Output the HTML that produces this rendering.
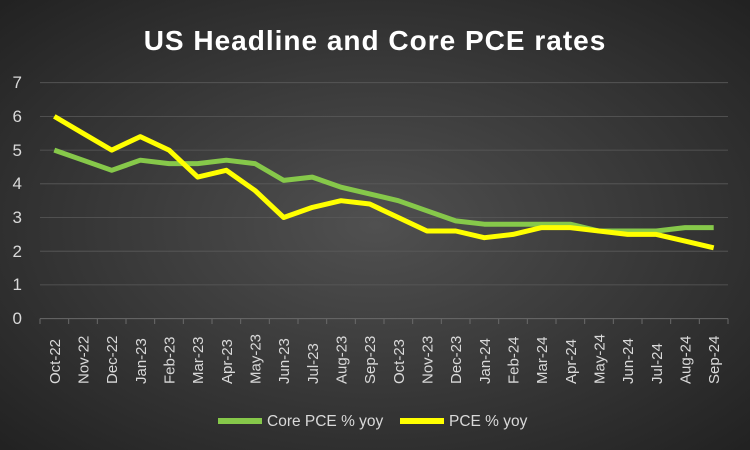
<!DOCTYPE html>
<html><head><meta charset="utf-8"><style>
body{margin:0;width:750px;height:450px;overflow:hidden}
svg{display:block;font-family:"Liberation Sans",Calibri,sans-serif}
</style></head><body>
<svg width="750" height="450" viewBox="0 0 750 450">
<defs><radialGradient id="bg" cx="50%" cy="50%" r="70%">
<stop offset="0" stop-color="#505050"/><stop offset="1" stop-color="#222"/></radialGradient></defs>
<rect width="750" height="450" fill="url(#bg)"/>
<text x="375" y="50" text-anchor="middle" font-size="28" font-weight="bold" fill="#fff" letter-spacing="1">US Headline and Core PCE rates</text>
<g stroke="#5a5a5a" stroke-width="0.8">
<line x1="40" y1="82.7" x2="728" y2="82.7"/><line x1="40" y1="116.4" x2="728" y2="116.4"/>
<line x1="40" y1="150.1" x2="728" y2="150.1"/><line x1="40" y1="183.8" x2="728" y2="183.8"/>
<line x1="40" y1="217.5" x2="728" y2="217.5"/><line x1="40" y1="251.2" x2="728" y2="251.2"/>
<line x1="40" y1="284.9" x2="728" y2="284.9"/>
</g>
<line x1="40" y1="318.6" x2="728" y2="318.6" stroke="#6a6a6a"/>
<g id="ticks" stroke="#6a6a6a"></g>
<g fill="#d9d9d9" font-size="17" text-anchor="end">
<text x="22" y="88">7</text><text x="22" y="122">6</text><text x="22" y="156">5</text><text x="22" y="189">4</text><text x="22" y="223">3</text><text x="22" y="257">2</text><text x="22" y="290">1</text><text x="22" y="324">0</text>
</g>
<g id="xl" fill="#d9d9d9" font-size="15"></g>
<polyline id="core" fill="none" stroke="#86c84a" stroke-width="5" stroke-linejoin="round"/>
<polyline id="pce" fill="none" stroke="#ffff00" stroke-width="5" stroke-linejoin="round"/>
<line x1="218" y1="421" x2="262" y2="421" stroke="#86c84a" stroke-width="6"/>
<text x="267" y="426" fill="#d9d9d9" font-size="15.5">Core PCE % yoy</text>
<line x1="400" y1="421" x2="444" y2="421" stroke="#ffff00" stroke-width="6"/>
<text x="449" y="426" fill="#d9d9d9" font-size="15.5">PCE % yoy</text>
</svg>
<script>
var L=["Oct-22","Nov-22","Dec-22","Jan-23","Feb-23","Mar-23","Apr-23","May-23","Jun-23","Jul-23","Aug-23","Sep-23","Oct-23","Nov-23","Dec-23","Jan-24","Feb-24","Mar-24","Apr-24","May-24","Jun-24","Jul-24","Aug-24","Sep-24"];
var C=[5.0,4.7,4.4,4.7,4.6,4.6,4.7,4.6,4.1,4.2,3.9,3.7,3.5,3.2,2.9,2.8,2.8,2.8,2.8,2.6,2.6,2.6,2.7,2.7];
var P=[6.0,5.5,5.0,5.4,5.0,4.2,4.4,3.8,3.0,3.3,3.5,3.4,3.0,2.6,2.6,2.4,2.5,2.7,2.7,2.6,2.5,2.5,2.3,2.1];
var x0=40,w=688/24,y0=318.6,u=33.7,ns="http://www.w3.org/2000/svg";
function pts(a){return a.map(function(v,i){return (x0+w*(i+.5)).toFixed(1)+","+(y0-v*u).toFixed(1)}).join(" ")}
document.getElementById("core").setAttribute("points",pts(C));
document.getElementById("pce").setAttribute("points",pts(P));
var t=document.getElementById("ticks"),xl=document.getElementById("xl");
for(var i=0;i<=24;i++){var l=document.createElementNS(ns,"line");var x=x0+w*i;l.setAttribute("x1",x);l.setAttribute("x2",x);l.setAttribute("y1",318.6);l.setAttribute("y2",324);t.appendChild(l);}
L.forEach(function(s,i){var e=document.createElementNS(ns,"text");var x=x0+w*(i+.5)+5.5;e.setAttribute("transform","translate("+x+",384) rotate(-90)");e.textContent=s;xl.appendChild(e);});
</script>
</body></html>
